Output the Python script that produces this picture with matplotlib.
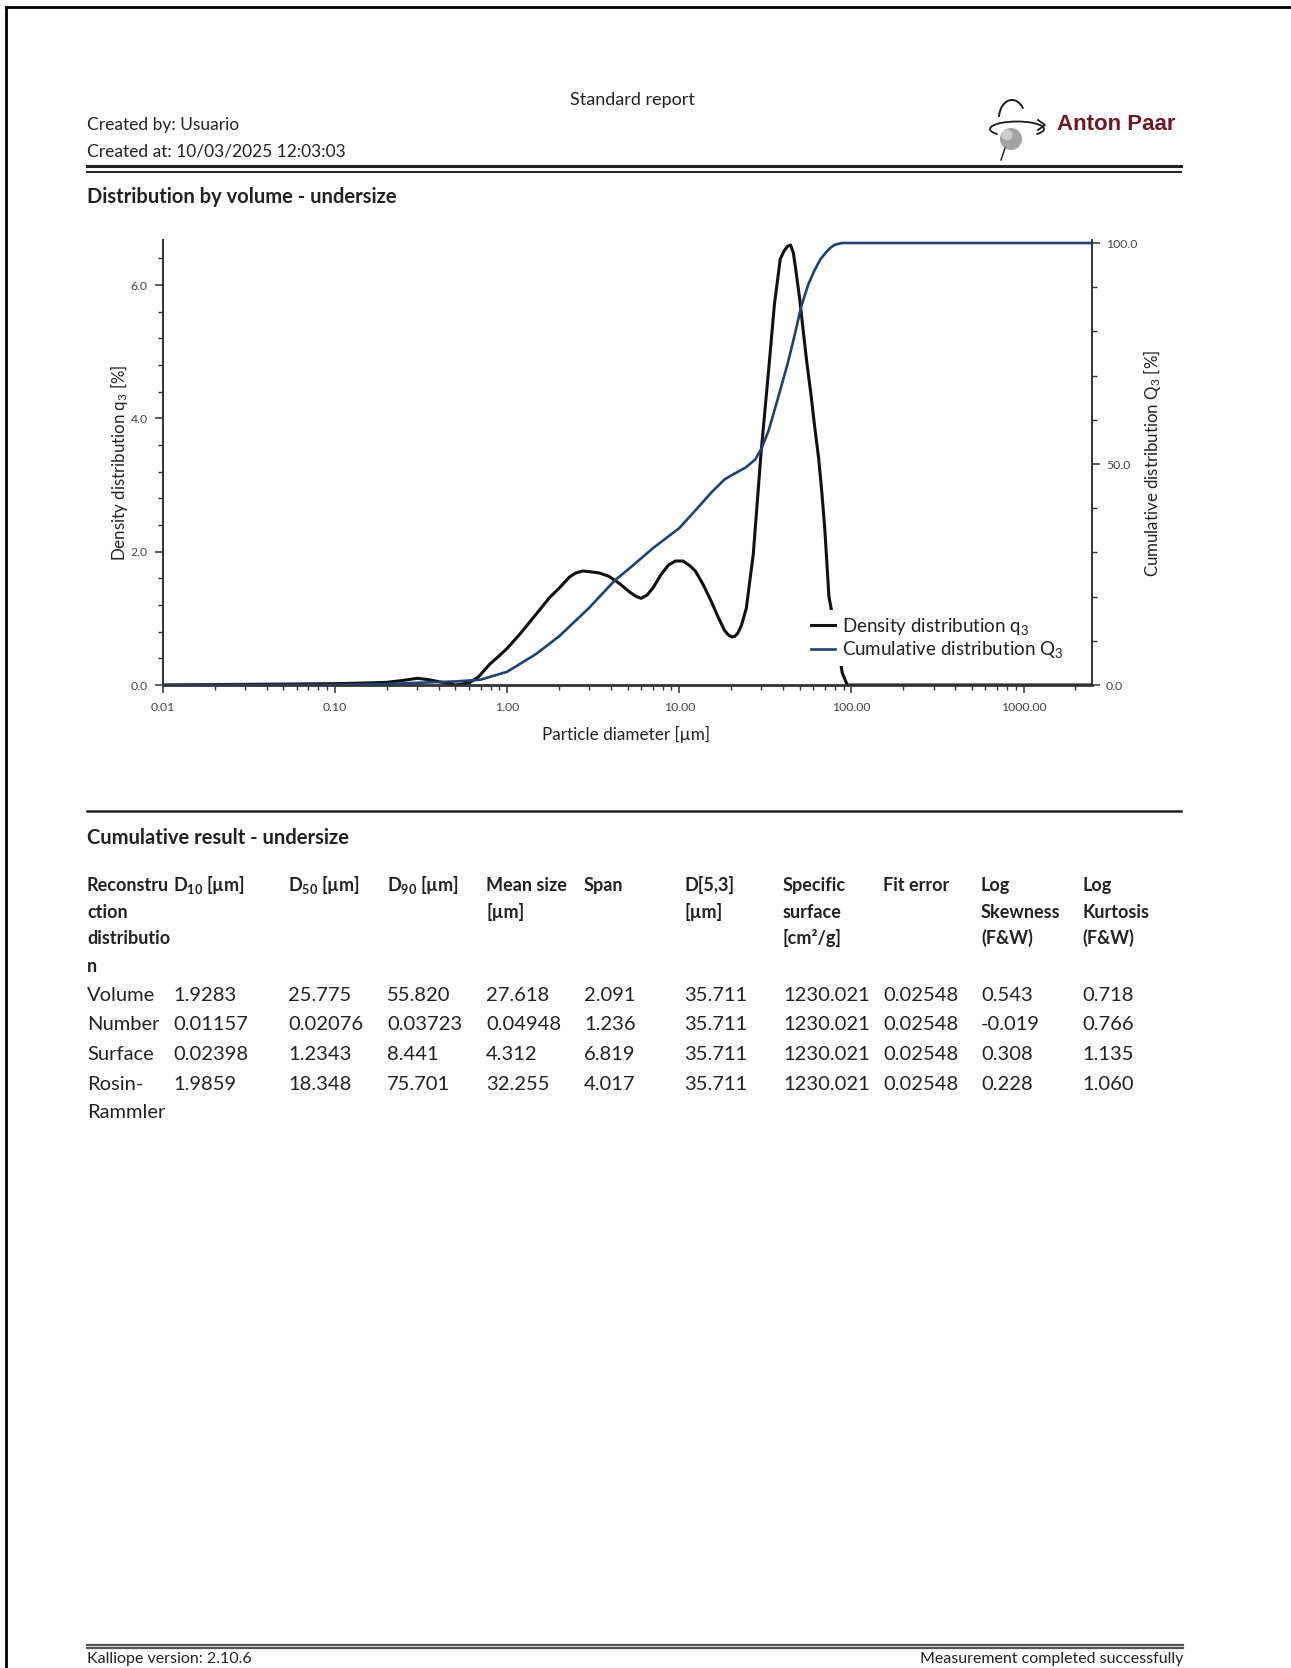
import matplotlib
matplotlib.use("Agg")
import matplotlib.pyplot as plt
from matplotlib.patches import Circle, Arc
from matplotlib.ticker import (FixedLocator, MultipleLocator, LogLocator,
                               NullFormatter, FuncFormatter)

plt.rcParams["font.family"] = ["Lato", "DejaVu Sans"]
plt.rcParams["mathtext.default"] = "regular"

W, H = 1291, 1668

# ---------------------------------------------------------------------------
# Data read from the report
# ---------------------------------------------------------------------------

# density distribution q3 [%] vs particle diameter [um]
diam_q3 = [0.01, 0.1, 0.15, 0.2, 0.25, 0.3, 0.35, 0.4, 0.5, 0.6, 0.68, 0.79,
           0.9, 1.0, 1.2, 1.47, 1.76, 2.0, 2.3, 2.5, 2.75, 3.0, 3.43, 3.9,
           4.5, 5.17, 5.6, 6.0, 6.5, 7.05, 7.8, 8.65, 9.5, 10.5, 11.5, 12.4,
           13.8, 15.3, 16.8, 18.3, 19.3, 20.2, 21.0, 21.9, 23.0, 24.5, 26.9,
           29.8, 33.0, 35.7, 38.6, 40.6, 42.5, 44.3, 46.0, 47.4, 50.0, 52.5,
           55.0, 58.2, 61.0, 64.5, 67.0, 70.0, 74.0, 82.0, 88.5, 94.6, 2500]
q3 = [0.0, 0.02, 0.03, 0.04, 0.07, 0.1, 0.08, 0.05, 0.0, 0.03, 0.12, 0.31,
      0.44, 0.55, 0.78, 1.06, 1.31, 1.45, 1.62, 1.68, 1.71, 1.70, 1.68, 1.63,
      1.52, 1.39, 1.33, 1.30, 1.35, 1.46, 1.65, 1.80, 1.86, 1.86, 1.79, 1.71,
      1.50, 1.26, 1.02, 0.82, 0.75, 0.72, 0.73, 0.78, 0.90, 1.15, 1.96,
      3.46, 4.71, 5.71, 6.39, 6.51, 6.58, 6.60, 6.48, 6.25, 5.80, 5.31,
      4.85, 4.36, 3.90, 3.40, 2.95, 2.35, 1.33, 0.70, 0.18, 0.0, 0.0]

# cumulative distribution Q3 [%]
diam_Q3 = [0.01, 0.1, 0.2, 0.3, 0.5, 0.7, 1.0, 1.47, 2.0, 2.65, 3.0, 4.2,
           5.17, 7.05, 10.0, 12.4, 15.3, 18.3, 20.2, 24.3, 27.6, 30.0, 33.0,
           37.5, 42.8, 47.0, 51.0, 56.0, 61.0, 66.0, 71.6, 76.0, 80.0, 88.0,
           100.0, 2500]
Q3 = [0.0, 0.05, 0.2, 0.5, 0.8, 1.2, 3.0, 7.0, 11.0, 15.5, 17.5, 23.6,
      26.5, 31.0, 35.5, 39.5, 43.5, 46.5, 47.5, 49.2, 51.0, 53.5, 57.5,
      65.0, 73.0, 79.5, 85.5, 90.5, 93.8, 96.3, 98.0, 99.0, 99.6, 100.0,
      100.0, 100.0]

x_ticks = [0.01, 0.1, 1, 10, 100, 1000]

table_header = [
    ["Reconstru", "ction", "distributio", "n"],
    ["D$_{10}$ [µm]"],
    ["D$_{50}$ [µm]"],
    ["D$_{90}$ [µm]"],
    ["Mean size", "[µm]"],
    ["Span"],
    ["D[5,3]", "[µm]"],
    ["Specific", "surface", "[cm²/g]"],
    ["Fit error"],
    ["Log", "Skewness", "(F&W)"],
    ["Log", "Kurtosis", "(F&W)"],
]
row_names = [["Volume"], ["Number"], ["Surface"], ["Rosin-", "Rammler"]]
row_values = [
    ["1.9283", "25.775", "55.820", "27.618", "2.091", "35.711", "1230.021", "0.02548", "0.543", "0.718"],
    ["0.01157", "0.02076", "0.03723", "0.04948", "1.236", "35.711", "1230.021", "0.02548", "-0.019", "0.766"],
    ["0.02398", "1.2343", "8.441", "4.312", "6.819", "35.711", "1230.021", "0.02548", "0.308", "1.135"],
    ["1.9859", "18.348", "75.701", "32.255", "4.017", "35.711", "1230.021", "0.02548", "0.228", "1.060"],
]

TXT = "#222222"
NAVY = "#20426e"

fig = plt.figure(figsize=(W / 100, H / 100), dpi=100)

# page layer in pixel coordinates (y downwards)
page = fig.add_axes([0, 0, 1, 1], zorder=0)
page.set_xlim(0, W)
page.set_ylim(H, 0)
page.axis("off")

# page frame
page.plot([6, W], [7, 7], color="black", lw=2.0)
page.plot([6, 6], [7, H], color="black", lw=2.0)

# header
page.text(632, 100, "Standard report", ha="center", va="center", fontsize=13, color=TXT)
page.text(87, 125, "Created by: Usuario", ha="left", va="center", fontsize=12.5, color=TXT)
page.text(87, 151, "Created at: 10/03/2025 12:03:03", ha="left", va="center", fontsize=12.5, color=TXT)
page.plot([87, 1181], [166, 166], color="#222222", lw=2.2)
page.plot([87, 1181], [172, 172], color="#222222", lw=1.4)

# logo
page.add_patch(Circle((1011, 139), 11, fc="#a3a3a3", ec="none"))
page.add_patch(Circle((1007, 135), 5.5, fc="#cdcdcd", ec="none"))
page.add_patch(Arc((1017, 129), 54, 15, theta1=165, theta2=375, color="#1a1a1a", lw=1.3))
page.add_patch(Arc((1012, 118), 26, 36, theta1=185, theta2=320, color="#1a1a1a", lw=1.4))
page.plot([1005, 1001], [148, 160], color="#1a1a1a", lw=1.0)
page.plot([1038, 1045, 1038], [120, 125, 130], color="#1a1a1a", lw=1.3)
page.text(1057, 124, "Anton Paar", ha="left", va="center", fontsize=16,
          fontweight="bold", family="Liberation Sans", color="#6e1a24")

page.text(87, 197, "Distribution by volume - undersize", ha="left", va="center",
          fontsize=14.5, fontweight="bold", color=TXT)

# ---------------------------------------------------------------------------
# Chart
# ---------------------------------------------------------------------------
ax = fig.add_axes([163 / W, 1 - 685 / H, 929 / W, 445 / H], zorder=2)
ax.patch.set_alpha(0)
ax.set_xscale("log")
ax.plot(diam_q3, q3, color="#111111", lw=2.2, label="Density distribution q$_3$")
ax.set_xlim(0.01, 2500)
ax.set_ylim(0, 6.675)

ax2 = ax.twinx()
ax2.plot(diam_Q3, Q3, color=NAVY, lw=1.9, label="Cumulative distribution Q$_3$")
ax2.set_ylim(0, 100.68)

for a in (ax, ax2):
    a.spines["top"].set_visible(False)
    for s in ("left", "right", "bottom"):
        a.spines[s].set_color("#333333")
        a.spines[s].set_linewidth(1.4)
ax.spines["bottom"].set_linewidth(2.0)
ax.spines["right"].set_visible(False)
ax2.spines["left"].set_visible(False)
ax2.spines["bottom"].set_visible(False)

ax.xaxis.set_major_locator(FixedLocator(x_ticks))
ax.xaxis.set_major_formatter(FuncFormatter(lambda v, p: f"{v:.2f}"))
ax.xaxis.set_minor_locator(LogLocator(base=10, subs=range(2, 10), numticks=20))
ax.xaxis.set_minor_formatter(NullFormatter())
ax.yaxis.set_major_locator(MultipleLocator(2))
ax.yaxis.set_minor_locator(MultipleLocator(0.4))
ax.yaxis.set_major_formatter(FuncFormatter(lambda v, p: f"{v:.1f}"))
ax2.yaxis.set_major_locator(FixedLocator([0, 50, 100]))
ax2.yaxis.set_minor_locator(MultipleLocator(10))
ax2.yaxis.set_major_formatter(FuncFormatter(lambda v, p: f"{v:.1f}"))

ax.tick_params(axis="x", which="both", direction="out", color="#333333",
               labelsize=8.8, labelcolor="#444444", pad=6)
ax.tick_params(axis="y", which="both", direction="out", color="#333333",
               labelsize=8.8, labelcolor="#444444", pad=5)
ax2.tick_params(axis="y", which="both", direction="out", color="#333333",
                labelsize=8.8, labelcolor="#444444", pad=4)
for a in (ax, ax2):
    a.tick_params(which="major", length=6, width=1.1)
    a.tick_params(which="minor", length=3.5, width=1.0)

page.text(626, 734, "Particle diameter [µm]", ha="center", va="center", fontsize=12.3, color=TXT)
page.text(119, 463, "Density distribution q$_3$ [%]", ha="center", va="center",
          rotation=90, fontsize=12.2, color=TXT)
page.text(1152, 463, "Cumulative distribution Q$_3$ [%]", ha="center", va="center",
          rotation=90, fontsize=12.2, color=TXT)

h1, l1 = ax.get_legend_handles_labels()
h2, l2 = ax2.get_legend_handles_labels()
leg = ax2.legend(h1 + h2, l1 + l2, loc="upper left",
                 bbox_to_anchor=(805 / W, 1 - 610 / H), bbox_transform=fig.transFigure,
                 frameon=True, fancybox=False, fontsize=13.5, borderpad=0.3,
                 handlelength=1.3, handletextpad=0.4, labelspacing=0.15,
                 borderaxespad=0)
leg.get_frame().set_facecolor("white")
leg.get_frame().set_edgecolor("none")
leg.get_frame().set_alpha(1)
for t in leg.get_texts():
    t.set_color(TXT)

# ---------------------------------------------------------------------------
# Results table
# ---------------------------------------------------------------------------
page.plot([87, 1181], [811, 811], color="#222222", lw=1.8)
page.text(87, 838, "Cumulative result - undersize", ha="left", va="center",
          fontsize=14.5, fontweight="bold", color=TXT)

col_x = [87, 173, 288, 387, 486, 584, 684, 783, 883, 981, 1082]
head_y = [885, 912, 938, 966]
row_y = [995, 1025, 1055, 1084]

for cx, lines in zip(col_x, table_header):
    for ly, txt in zip(head_y, lines):
        page.text(cx, ly, txt, ha="left", va="center", fontsize=13,
                  fontweight="bold", color=TXT)

for ry, name, vals in zip(row_y, row_names, row_values):
    for k, part in enumerate(name):
        page.text(col_x[0], ry + 28 * k, part, ha="left", va="center",
                  fontsize=14.5, color=TXT)
    for cx, v in zip(col_x[1:], vals):
        page.text(cx, ry, v, ha="left", va="center", fontsize=14.5, color=TXT)

# footer
page.plot([87, 1183], [1645, 1645], color="#555555", lw=1.6)
page.plot([87, 1183], [1648, 1648], color="#555555", lw=1.6)
page.text(87, 1666, "Kalliope version: 2.10.6", ha="left", va="bottom", fontsize=11.5, color=TXT)
page.text(1183, 1666, "Measurement completed successfully", ha="right", va="bottom",
          fontsize=11.5, color=TXT)

fig.savefig("out.png", dpi=100)
